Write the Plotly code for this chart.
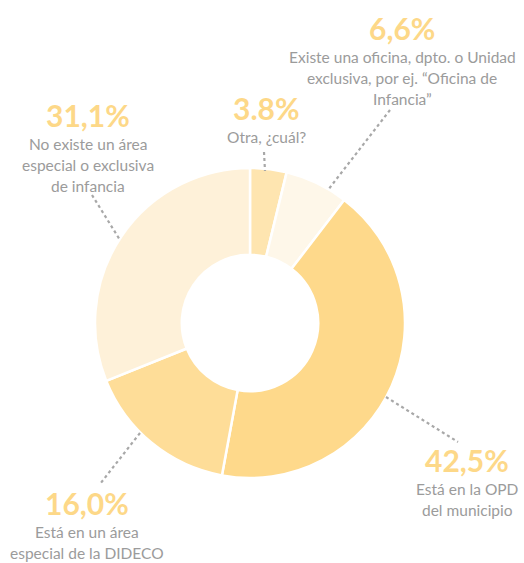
import plotly.graph_objects as go

W, H = 524, 563

labels = ["Otra, ¿cuál?",
          "Existe una oficina, dpto. o Unidad exclusiva, por ej. “Oficina de Infancia”",
          "Está en la OPD del municipio",
          "Está en un área especial de la DIDECO",
          "No existe un área especial o exclusiva de infancia"]
values = [3.8, 6.6, 42.5, 16.0, 31.1]
pct_text = ["3.8%", "6,6%", "42,5%", "16,0%", "31,1%"]
desc_lines = [["Otra, ¿cuál?"],
              ["Existe una oficina, dpto. o Unidad", "exclusiva, por ej. “Oficina de", "Infancia”"],
              ["Está en la OPD", "del municipio"],
              ["Está en un área", "especial de la DIDECO"],
              ["No existe un área", "especial o exclusiva", "de infancia"]]
colors = ["#fee5b0", "#fef7e9", "#fed98b", "#fedd98", "#fef1d9"]

# layout (pixels)
cx, cy, R = 250, 323, 155
hole = 0.44
label_pos = [(266, 108), (402, 28), (467, 460), (87, 503), (88, 115)]
line_ends = [((264, 152), (265, 171)), ((390, 110), (328, 190)),
             ((386, 397), (458, 442)), ((140, 433), (100, 484)),
             ((92, 195), (120, 240))]

def px(x):
    return x / W

def py(y):
    return 1 - y / H

fig = go.Figure(go.Pie(
    labels=labels, values=values, sort=False, direction="clockwise", rotation=0,
    hole=hole, marker=dict(colors=colors, line=dict(color="white", width=2.5)),
    textinfo="none", hoverinfo="label+percent", showlegend=False,
    domain=dict(x=[px(cx - R), px(cx + R)], y=[py(cy + R), py(cy - R)]),
))

annotations = []
shapes = []
for i in range(len(values)):
    lx, ly = label_pos[i]
    annotations.append(dict(x=px(lx), y=py(ly), xref="paper", yref="paper",
                            text="<b>%s</b>" % pct_text[i], showarrow=False,
                            xanchor="center", yanchor="middle",
                            font=dict(family="Lato", size=30, color="#fdd888")))
    for j, line in enumerate(desc_lines[i]):
        annotations.append(dict(x=px(lx), y=py(ly + 29 + 21 * j), xref="paper", yref="paper",
                                text=line, showarrow=False, xanchor="center", yanchor="middle",
                                font=dict(family="Lato", size=15.5, color="#9b9b9b")))
    (x0, y0), (x1, y1) = line_ends[i]
    shapes.append(dict(type="line", xref="paper", yref="paper",
                       x0=px(x0), y0=py(y0), x1=px(x1), y1=py(y1),
                       line=dict(color="#a8a8a8", width=2.2, dash="dot")))

fig.update_layout(width=W, height=H, margin=dict(l=0, r=0, t=0, b=0),
                  paper_bgcolor="white", plot_bgcolor="white",
                  annotations=annotations, shapes=shapes)
fig.write_html("out.html", config={"displayModeBar": False},
               post_script="document.body.style.margin='0';document.body.style.overflow='hidden';")
